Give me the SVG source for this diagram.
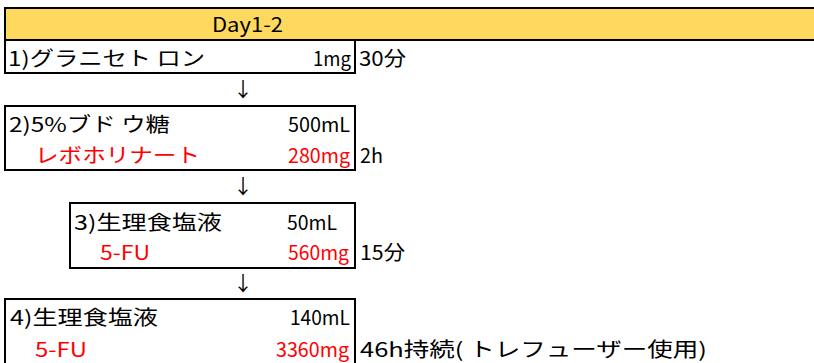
<svg xmlns="http://www.w3.org/2000/svg" width="814" height="363" viewBox="0 0 814 363">
<style>
text{font-family:"Noto Sans CJK JP","Noto Sans",sans-serif;font-size:20px;fill:#000}
.r{fill:#FF0000}
.box{fill:#fff;stroke:#000;stroke-width:2}
.arr{font-size:20px;text-anchor:middle}
</style>
<rect width="814" height="363" fill="#fff"/>
<g id="header">
<rect x="5" y="8" width="830" height="32" fill="#FFD85E" stroke="#000" stroke-width="2"/>
<text x="212" y="32" textLength="71" lengthAdjust="spacingAndGlyphs">Day1-2</text>
</g>
<g id="node1">
<rect class="box" x="5" y="40" width="350" height="33"/>
<text x="8" y="66" textLength="197" lengthAdjust="spacingAndGlyphs">1)グラニセト ロン</text>
<text x="313" y="66" textLength="38" lengthAdjust="spacingAndGlyphs">1mg</text>
<text x="359" y="66" textLength="47" lengthAdjust="spacingAndGlyphs">30分</text>
</g>
<g id="node2">
<rect class="box" x="5" y="106" width="350" height="64"/>
<text x="9" y="132" textLength="161" lengthAdjust="spacingAndGlyphs">2)5%ブド ウ糖</text>
<text x="288" y="132" textLength="62" lengthAdjust="spacingAndGlyphs">500mL</text>
<text class="r" x="35" y="163" textLength="165" lengthAdjust="spacingAndGlyphs">レボホリナート</text>
<text class="r" x="288" y="163" textLength="62" lengthAdjust="spacingAndGlyphs">280mg</text>
<text x="360" y="163" textLength="23" lengthAdjust="spacingAndGlyphs">2h</text>
</g>
<g id="node3">
<rect class="box" x="70" y="203" width="285" height="65"/>
<text x="74" y="230" textLength="148" lengthAdjust="spacingAndGlyphs">3)生理食塩液</text>
<text x="287" y="230" textLength="50" lengthAdjust="spacingAndGlyphs">50mL</text>
<text class="r" x="100" y="260" textLength="50" lengthAdjust="spacingAndGlyphs">5-FU</text>
<text class="r" x="288" y="260" textLength="61" lengthAdjust="spacingAndGlyphs">560mg</text>
<text x="360" y="260" textLength="45" lengthAdjust="spacingAndGlyphs">15分</text>
</g>
<g id="node4">
<rect class="box" x="5" y="299" width="350" height="80"/>
<text x="10" y="325" textLength="148" lengthAdjust="spacingAndGlyphs">4)生理食塩液</text>
<text x="290" y="325" textLength="60" lengthAdjust="spacingAndGlyphs">140mL</text>
<text class="r" x="35" y="357" textLength="52" lengthAdjust="spacingAndGlyphs">5-FU</text>
<text class="r" x="276" y="357" textLength="73" lengthAdjust="spacingAndGlyphs">3360mg</text>
<text x="360" y="357" textLength="347" lengthAdjust="spacingAndGlyphs">46h持続( トレフューザー使用)</text>
</g>
<g id="connectors">
<text class="arr" x="243" y="97">↓</text>
<text class="arr" x="243" y="194">↓</text>
<text class="arr" x="243" y="291">↓</text>
</g>
</svg>
